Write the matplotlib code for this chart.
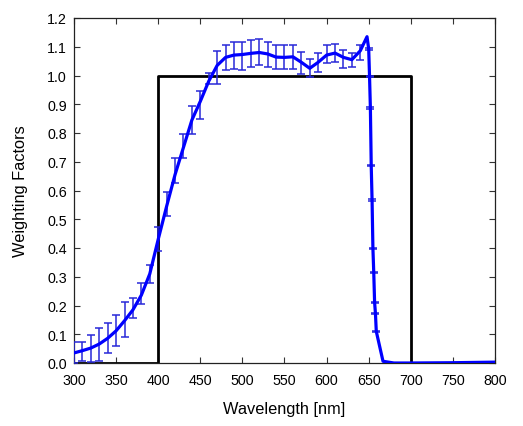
import matplotlib
matplotlib.use("Agg")
import matplotlib.pyplot as plt

# Blue weighting curve
line_wl = [300, 310, 320, 330, 340, 350, 360, 370, 380, 390, 400, 410, 420, 430,
           440, 450, 460, 470, 480, 490, 500, 510, 520, 530, 540, 550, 560, 570,
           580, 590, 600, 610, 620, 630, 640, 648, 650, 651, 652, 653, 654, 655,
           656, 657, 658, 659, 667, 680, 700, 750, 800]
line_val = [0.035, 0.043, 0.052, 0.066, 0.086, 0.112, 0.147, 0.185, 0.236, 0.310,
            0.430, 0.545, 0.655, 0.750, 0.845, 0.910, 0.980, 1.035, 1.063, 1.071,
            1.073, 1.077, 1.080, 1.075, 1.064, 1.063, 1.065, 1.046, 1.025, 1.046,
            1.071, 1.078, 1.063, 1.055, 1.086, 1.135, 1.092, 0.996, 0.887, 0.686,
            0.567, 0.399, 0.315, 0.211, 0.173, 0.110, 0.006, 0.0, 0.0, 0.001, 0.003]

# Error bars
err_wl = [300, 310, 320, 330, 340, 350, 360, 370, 380, 390, 400, 410, 420, 430,
          440, 450, 460, 470, 480, 490, 500, 510, 520, 530, 540, 550, 560, 570,
          580, 590, 600, 610, 620, 630, 640,
          650, 651, 652, 653, 654, 655, 656, 657, 658, 659]
err_low = [0.000, 0.008, 0.002, 0.008, 0.035, 0.060, 0.089, 0.157, 0.205, 0.278,
           0.391, 0.512, 0.626, 0.712, 0.797, 0.849, 0.972, 0.970, 1.020, 1.023,
           1.020, 1.029, 1.035, 1.030, 1.022, 1.022, 1.022, 1.005, 0.994, 1.013,
           1.042, 1.046, 1.026, 1.030, 1.055,
           1.090, 0.994, 0.885, 0.684, 0.565, 0.397, 0.313, 0.209, 0.171, 0.108]
err_high = [0.072, 0.074, 0.098, 0.122, 0.139, 0.168, 0.211, 0.225, 0.278, 0.341,
            0.472, 0.595, 0.712, 0.797, 0.895, 0.947, 1.010, 1.086, 1.106, 1.118,
            1.118, 1.125, 1.127, 1.118, 1.106, 1.106, 1.106, 1.083, 1.057, 1.080,
            1.106, 1.110, 1.089, 1.080, 1.106,
            1.094, 0.998, 0.889, 0.688, 0.569, 0.401, 0.317, 0.213, 0.175, 0.112]

# Black rectangular window
rect_wl = [300, 400, 400, 700, 700, 800]
rect_val = [0, 0, 1, 1, 0, 0]

xticks = [300, 350, 400, 450, 500, 550, 600, 650, 700, 750, 800]
yticks = [0.0, 0.1, 0.2, 0.3, 0.4, 0.5, 0.6, 0.7, 0.8, 0.9, 1.0, 1.1, 1.2]

plt.rcParams['font.family'] = ['Liberation Sans', 'DejaVu Sans']

fig = plt.figure(figsize=(5.23, 4.27), dpi=100)
ax = fig.add_axes([74/523, 1 - 364/427, (495-74)/523, (364-19)/427])

ax.plot(rect_wl, rect_val, color='black', lw=2.0, zorder=2)

ecol = '#2828d8'
for w, lo, hi in zip(err_wl, err_low, err_high):
    mid = (lo + hi) / 2
    ax.errorbar([w], [mid], yerr=[[mid - lo], [hi - mid]], fmt='none',
                ecolor=ecol, elinewidth=1.1, capsize=3.2, capthick=1.1, zorder=3)

ax.plot(line_wl, line_val, color='#0000ff', lw=2.3, zorder=4, solid_joinstyle='round')

ax.set_xlim(300, 800)
ax.set_ylim(0, 1.2)
ax.set_xticks(xticks)
ax.set_yticks(yticks)
ax.set_xticklabels([str(t) for t in xticks])
ax.set_yticklabels([f"{t:.1f}" for t in yticks])
ax.tick_params(direction='in', length=4, width=0.8, top=True, right=True,
               labelsize=10.3, color='#333333')
ax.tick_params(axis='x', pad=7)
ax.tick_params(axis='y', pad=5)
for s in ax.spines.values():
    s.set_linewidth(0.9)
    s.set_color('#222222')

ax.set_xlabel('Wavelength [nm]', fontsize=11.8, labelpad=10)
ax.set_ylabel('Weighting Factors', fontsize=11.8, labelpad=14)

fig.savefig('out.png', dpi=100)
